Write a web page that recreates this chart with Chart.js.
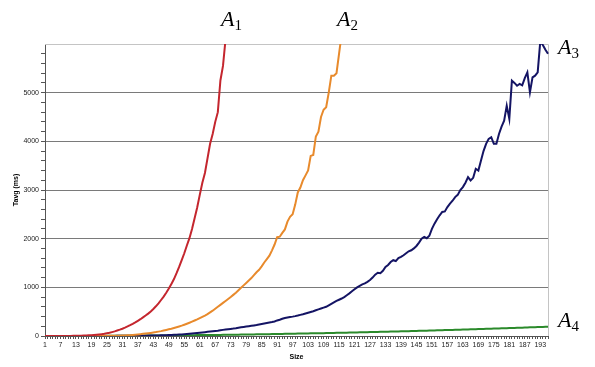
<!DOCTYPE html>
<html>
<head>
<meta charset="utf-8">
<script src="https://cdn.jsdelivr.net/npm/chart.js@4.4.1/dist/chart.umd.min.js"></script>
<style>
  html, body { margin: 0; padding: 0; background: #fff; }
  #wrap { position: relative; width: 595px; height: 367px; }
  canvas { position: absolute; left: 0; top: 0; }
  .lbl { position: absolute; font-family: "Liberation Serif", "DejaVu Serif", serif; font-size: 22px; color: #000; line-height: 1; white-space: nowrap; }
  .lbl i { font-style: italic; }
  .lbl sub { font-size: 15px; vertical-align: baseline; position: relative; top: 4px; }
</style>
</head>
<body>
<div id="wrap">
  <canvas id="c" width="595" height="367"></canvas>
  <div class="lbl" style="left:221px; top:8px;"><i>A</i><sub>1</sub></div>
  <div class="lbl" style="left:337px; top:8px;"><i>A</i><sub>2</sub></div>
  <div class="lbl" style="left:558px; top:36px;"><i>A</i><sub>3</sub></div>
  <div class="lbl" style="left:558px; top:309px;"><i>A</i><sub>4</sub></div>
</div>
<script>
// ---- data ----
const sizes = [];
for (let i = 1; i <= 196; i++) sizes.push(String(i));

const seriesA1 = [
  0,0,0,0,0,0,1,1,1,2,
  2,3,4,5,6,8,10,13,17,21,
  26,32,38,45,55,66,80,95,112,130,
  150,172,196,222,250,280,312,345,382,420,
  460,505,555,610,670,740,810,890,975,1070,
  1170,1290,1420,1560,1700,1860,2010,2200,2420,2640,
  2900,3150,3350,3650,3950,4150,4400,4600,5250,5550,
  6100,6500
];

const seriesA2 = [
  0,0,0,0,0,0,0,0,0,0,
  0,0,0,0,0,0,0,0,1,1,
  1,1,2,2,2,3,3,3,4,5,
  8,11,14,18,22,27,32,38,44,50,
  57,64,72,80,90,100,112,124,137,150,
  165,180,196,213,232,252,273,295,318,342,
  368,395,420,450,485,520,560,600,640,680,
  720,760,800,845,890,940,990,1040,1090,1140,
  1190,1250,1310,1360,1430,1510,1580,1650,1760,1880,
  2030,2040,2120,2190,2350,2450,2500,2700,2950,3050,
  3200,3300,3400,3700,3720,4100,4200,4500,4650,4700,
  5000,5350,5350,5400,5800,6200,6600
];

const seriesA3 = [
  0,0,0,0,0,0,0,0,0,0,
  0,0,0,0,0,0,0,0,0,1,
  1,1,1,1,2,2,2,2,3,3,
  3,4,4,4,5,5,6,6,7,7,
  8,9,10,11,12,13,15,17,19,21,
  24,27,30,33,37,41,45,50,55,60,
  66,72,78,85,92,98,104,110,118,126,
  134,140,146,152,160,170,178,186,194,202,
  210,218,226,236,246,256,266,276,286,298,
  320,335,355,370,380,390,398,408,420,434,
  446,462,478,494,510,528,546,564,582,600,
  630,660,690,720,745,770,800,838,876,918,
  960,1000,1030,1060,1080,1113,1150,1200,1260,1300,
  1290,1340,1420,1460,1520,1557,1540,1600,1625,1660,
  1700,1740,1762,1800,1850,1920,2000,2035,2010,2060,
  2200,2309,2400,2480,2548,2560,2650,2720,2780,2855,
  2900,3000,3060,3150,3264,3197,3250,3436,3400,3600,
  3800,3949,4050,4084,3950,3949,4150,4300,4426,4733,
  4461,5246,5200,5143,5180,5150,5300,5416,5006,5314,
  5350,5416,6050,5980,5880,5800
];

const seriesA4 = [
  0,0,0,0,0,0,0,0,0,0,1,1,1,1,1,1,1,2,2,2,
  2,2,3,3,3,3,4,4,4,4,5,5,5,6,6,6,7,7,7,8,
  8,9,9,10,10,10,11,11,12,12,13,13,14,14,15,15,16,16,17,18,
  18,19,19,20,21,21,22,23,23,24,25,25,26,27,28,28,29,30,31,32,
  32,33,34,35,36,37,38,38,39,40,41,42,43,44,45,46,47,48,49,50,
  51,52,53,54,55,56,57,58,59,60,61,62,63,65,66,67,68,69,71,72,
  73,74,75,77,78,79,80,81,83,84,85,87,88,89,91,92,93,95,96,97,
  99,100,101,103,104,106,107,109,110,112,113,115,116,118,119,121,122,124,125,127,
  128,130,132,133,135,137,138,140,142,143,145,147,148,150,152,154,155,157,159,161,
  163,164,166,168,170,172,174,176,178,180,182,184,186,187,189,191
];

const yMax = 6000;
const yMajor = 1000;
const yMinor = 200;
const xLabelEvery = 6;

// ---- chart ----
const tickFont = { family: "'Liberation Sans', Arial, sans-serif", size: 7 };
const titleFont = { family: "'Liberation Sans', Arial, sans-serif", size: 7, weight: 'bold' };

const frame = {
  id: 'frame',
  beforeDatasetsDraw(chart) {
    const a = chart.chartArea, ctx = chart.ctx;
    ctx.save();
    ctx.strokeStyle = '#c4c4c4';
    ctx.lineWidth = 1;
    ctx.beginPath();
    ctx.moveTo(a.left, a.top + 0.5);
    ctx.lineTo(a.right + 0.5, a.top + 0.5);
    ctx.lineTo(a.right + 0.5, a.bottom);
    ctx.stroke();
    ctx.restore();
  }
};

function ds(data, color) {
  return { data, borderColor: color, backgroundColor: color, borderWidth: 2,
           pointRadius: 0, tension: 0, fill: false, spanGaps: false };
}

new Chart(document.getElementById('c'), {
  type: 'line',
  data: {
    labels: sizes,
    datasets: [
      ds(seriesA1, '#c4262e'),
      ds(seriesA2, '#e88a2c'),
      ds(seriesA3, '#141464'),
      ds(seriesA4, '#2b8a2b')
    ]
  },
  options: {
    responsive: false,
    animation: false,
    events: [],
    layout: { padding: { left: 0, right: 47, top: 44, bottom: 0 } },
    plugins: { legend: { display: false }, tooltip: { enabled: false } },
    scales: {
      x: {
        offset: false,
        grid: { drawOnChartArea: false, tickLength: 3, color: '#555', tickColor: '#555' },
        border: { color: '#555', width: 1 },
        ticks: {
          autoSkip: false, maxRotation: 0, minRotation: 0, padding: 2,
          font: tickFont, color: '#222',
          callback: (v, i) => (i % xLabelEvery === 0 ? sizes[i] : '')
        },
        title: { display: true, text: 'Size', font: titleFont, color: '#000', padding: { top: 2, bottom: 6 } },
        afterFit: s => { s.height = 31; }
      },
      y: {
        min: 0, max: yMax,
        grid: {
          tickLength: 4,
          color: c => (c.tick && c.tick.value % yMajor === 0 && c.tick.value > 0 && c.tick.value < yMax) ? '#7a7a7a' : 'rgba(0,0,0,0)',
          tickColor: c => (c.tick && c.tick.value < yMax) ? '#555' : 'rgba(0,0,0,0)'
        },
        border: { color: '#555', width: 1 },
        ticks: {
          stepSize: yMinor, autoSkip: false, padding: 2,
          font: tickFont, color: '#222',
          callback: v => (v % yMajor === 0 && v < yMax) ? String(v) : ''
        },
        title: { display: true, text: 'Tavg (ms)', font: titleFont, color: '#000', padding: { top: 12, bottom: 0 } },
        afterFit: s => { s.width = 45; }
      }
    }
  },
  plugins: [frame]
});
</script>
</body>
</html>
